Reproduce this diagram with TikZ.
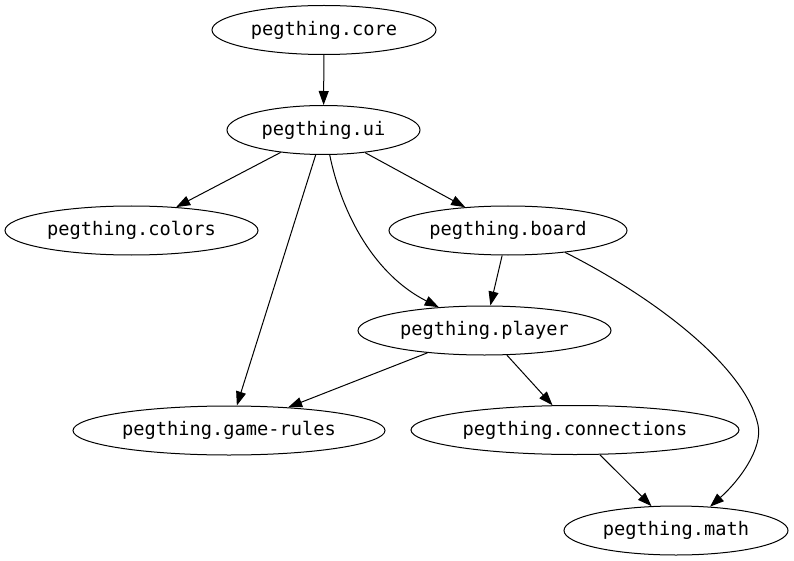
\documentclass[tikz,border=0pt]{standalone}
\usepackage{fontspec}
\setmonofont{DejaVu Sans Mono}
\usetikzlibrary{shapes.geometric,arrows.meta,positioning,calc}

\begin{document}
\begin{tikzpicture}[x=1pt,y=-1pt,
  ns/.style={draw, ellipse, line width=1pt, inner sep=0pt, minimum height=49pt, font=\fontsize{18.67}{20}\selectfont\ttfamily},
  dep/.style={-{Triangle[length=14pt,width=10pt]}, line width=1pt}]
\useasboundingbox (0,0) rectangle (794,561);
\node[ns, minimum width=224pt] (core) at (324,30) {pegthing.core};
\node[ns, minimum width=193pt] (ui) at (323.5,130) {pegthing.ui};
\node[ns, minimum width=253pt] (colors) at (131.5,230.5) {pegthing.colors};
\node[ns, minimum width=238pt] (board) at (508,230.5) {pegthing.board};
\node[ns, minimum width=253pt] (player) at (484.5,330.5) {pegthing.player};
\node[ns, minimum width=312pt] (rules) at (229,430.5) {pegthing.game-rules};
\node[ns, minimum width=328pt] (conn) at (575,430) {pegthing.connections};
\node[ns, minimum width=224pt] (math) at (676,530.5) {pegthing.math};

\draw[dep] (core) -- (ui);
\draw[dep] (ui) -- (colors);
\draw[dep] (ui) -- (rules);
\draw[dep] (ui.-76) .. controls (342,215) and (375,275) .. (player.153);
\draw[dep] (ui) -- (board);
\draw[dep] (board) -- (player);
\draw[dep] (board.-21) .. controls (650,295) and (745,365) .. (758,425) .. controls (763,448) and (740,480) .. (math.35);
\draw[dep] (player) -- (rules);
\draw[dep] (player) -- (conn);
\draw[dep] (conn) -- (math);

\end{tikzpicture}
\end{document}
